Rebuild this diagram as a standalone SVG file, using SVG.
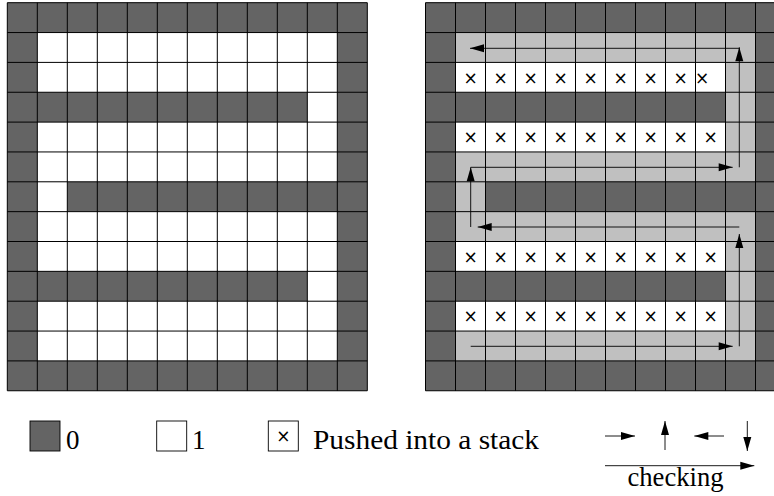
<svg xmlns="http://www.w3.org/2000/svg" width="774" height="496" viewBox="0 0 774 496">
  <defs>
    <style>
      .dark { fill: #646464; }
      .light { fill: #c0c0c0; }
      .white { fill: #ffffff; }
      .grid { fill: none; stroke: #000; stroke-width: 1; }
      .flow { fill: none; stroke: #000; stroke-width: 0.9; marker-end: url(#tip); }
      .mark { font-family: "DejaVu Sans", sans-serif; font-size: 17px; text-anchor: middle; fill: #000; }
      .lbl { font-family: "Liberation Serif", "Times New Roman", serif; font-size: 27px; fill: #000; }
    </style>
    <marker id="tip" markerUnits="userSpaceOnUse" markerWidth="14" markerHeight="8" refX="14" refY="4" orient="auto" overflow="visible">
      <path d="M0,0 L14,4 L0,8 Z" fill="#000"/>
    </marker>
  </defs>
  <rect width="774" height="496" fill="#ffffff"/>

  <!-- Left grid: 0 = dark, 1 = white -->
  <g id="grid-left">
    <rect class="dark" x="7.3" y="2.7" width="360" height="388.05"/>
    <rect class="white" x="37.3" y="32.55" width="300" height="59.7"/>
    <rect class="white" x="307.3" y="92.25" width="30" height="29.85"/>
    <rect class="white" x="37.3" y="122.1" width="300" height="59.7"/>
    <rect class="white" x="37.3" y="181.8" width="30" height="29.85"/>
    <rect class="white" x="37.3" y="211.65" width="300" height="59.7"/>
    <rect class="white" x="307.3" y="271.35" width="30" height="29.85"/>
    <rect class="white" x="37.3" y="301.2" width="300" height="59.7"/>
    <path class="grid" d="M7.3,2.7V390.75M37.3,2.7V390.75M67.3,2.7V390.75M97.3,2.7V390.75M127.3,2.7V390.75M157.3,2.7V390.75M187.3,2.7V390.75M217.3,2.7V390.75M247.3,2.7V390.75M277.3,2.7V390.75M307.3,2.7V390.75M337.3,2.7V390.75M367.3,2.7V390.75
      M7.3,2.7H367.3M7.3,32.55H367.3M7.3,62.4H367.3M7.3,92.25H367.3M7.3,122.1H367.3M7.3,151.95H367.3M7.3,181.8H367.3M7.3,211.65H367.3M7.3,241.5H367.3M7.3,271.35H367.3M7.3,301.2H367.3M7.3,331.05H367.3M7.3,360.9H367.3M7.3,390.75H367.3"/>
  </g>

  <!-- Right grid: checked path in light grey, pushed cells marked -->
  <g id="grid-right">
    <rect class="dark" x="425.5" y="2.7" width="360" height="388.05"/>
    <rect class="light" x="455.5" y="32.55" width="300" height="328.35"/>
    <rect class="dark" x="455.5" y="92.25" width="270" height="29.85"/>
    <rect class="dark" x="485.5" y="181.8" width="270" height="29.85"/>
    <rect class="dark" x="455.5" y="271.35" width="270" height="29.85"/>
    <rect class="white" x="455.5" y="62.4" width="270" height="29.85"/>
    <rect class="white" x="455.5" y="122.1" width="270" height="29.85"/>
    <rect class="white" x="455.5" y="241.5" width="270" height="29.85"/>
    <rect class="white" x="455.5" y="301.2" width="270" height="29.85"/>
    <path class="grid" d="M425.5,2.7V390.75M455.5,2.7V390.75M485.5,2.7V390.75M515.5,2.7V390.75M545.5,2.7V390.75M575.5,2.7V390.75M605.5,2.7V390.75M635.5,2.7V390.75M665.5,2.7V390.75M695.5,2.7V390.75M725.5,2.7V390.75M755.5,2.7V390.75M785.5,2.7V390.75
      M425.5,2.7H785.5M425.5,32.55H785.5M425.5,62.4H785.5M425.5,92.25H785.5M425.5,122.1H785.5M425.5,151.95H785.5M425.5,181.8H785.5M425.5,211.65H785.5M425.5,241.5H785.5M425.5,271.35H785.5M425.5,301.2H785.5M425.5,331.05H785.5M425.5,360.9H785.5M425.5,390.75H785.5"/>
  </g>

  <!-- Pushed cells -->
  <g id="pushed-marks">
    <g class="mark">
      <text x="470.5" y="84">×</text><text x="500.5" y="84">×</text><text x="530.5" y="84">×</text><text x="560.5" y="84">×</text><text x="590.5" y="84">×</text><text x="620.5" y="84">×</text><text x="650.5" y="84">×</text><text x="680.5" y="84">×</text><text x="702" y="84">×</text>
      <text x="470.5" y="143">×</text><text x="500.5" y="143">×</text><text x="530.5" y="143">×</text><text x="560.5" y="143">×</text><text x="590.5" y="143">×</text><text x="620.5" y="143">×</text><text x="650.5" y="143">×</text><text x="680.5" y="143">×</text><text x="710.5" y="143">×</text>
      <text x="470.5" y="262.5">×</text><text x="500.5" y="262.5">×</text><text x="530.5" y="262.5">×</text><text x="560.5" y="262.5">×</text><text x="590.5" y="262.5">×</text><text x="620.5" y="262.5">×</text><text x="650.5" y="262.5">×</text><text x="680.5" y="262.5">×</text><text x="710.5" y="262.5">×</text>
      <text x="470.5" y="322">×</text><text x="500.5" y="322">×</text><text x="530.5" y="322">×</text><text x="560.5" y="322">×</text><text x="590.5" y="322">×</text><text x="620.5" y="322">×</text><text x="650.5" y="322">×</text><text x="680.5" y="322">×</text><text x="710.5" y="322">×</text>
    </g>
  </g>

  <!-- Checking order along the path -->
  <g id="connectors">
    <path class="flow" d="M470.7,346.3H732.7"/>
    <path class="flow" d="M739.3,346.3V234"/>
    <path class="flow" d="M739.3,227H477.7"/>
    <path class="flow" d="M470.7,227V167.3"/>
    <path class="flow" d="M470.7,167.3H732.7"/>
    <path class="flow" d="M739.3,167.3V47.3"/>
    <path class="flow" d="M739.3,48.3H470"/>
  </g>

  <!-- Legend -->
  <g id="legend-zero">
    <rect class="dark" x="30" y="421" width="30" height="30" stroke="#000" stroke-width="0.9"/>
    <text class="lbl" x="66" y="449">0</text>
  </g>
  <g id="legend-one">
    <rect class="white" x="156.7" y="421" width="30" height="30" stroke="#000" stroke-width="0.9"/>
    <text class="lbl" x="192" y="449">1</text>
  </g>
  <g id="legend-pushed">
    <rect class="white" x="268.3" y="421" width="30" height="30" stroke="#000" stroke-width="0.9"/>
    <text class="mark" x="283.3" y="442">×</text>
    <text class="lbl" x="313" y="449" textLength="226" lengthAdjust="spacingAndGlyphs">Pushed into a stack</text>
  </g>
  <g id="legend-checking">
    <path class="flow" d="M605,436H635"/>
    <path class="flow" d="M665,450V421"/>
    <path class="flow" d="M724,436H694.3"/>
    <path class="flow" d="M747.3,421V451"/>
    <path class="flow" d="M605,465.7H754.3"/>
    <text class="lbl" x="627.5" y="486" textLength="96" lengthAdjust="spacingAndGlyphs">checking</text>
  </g>
</svg>
